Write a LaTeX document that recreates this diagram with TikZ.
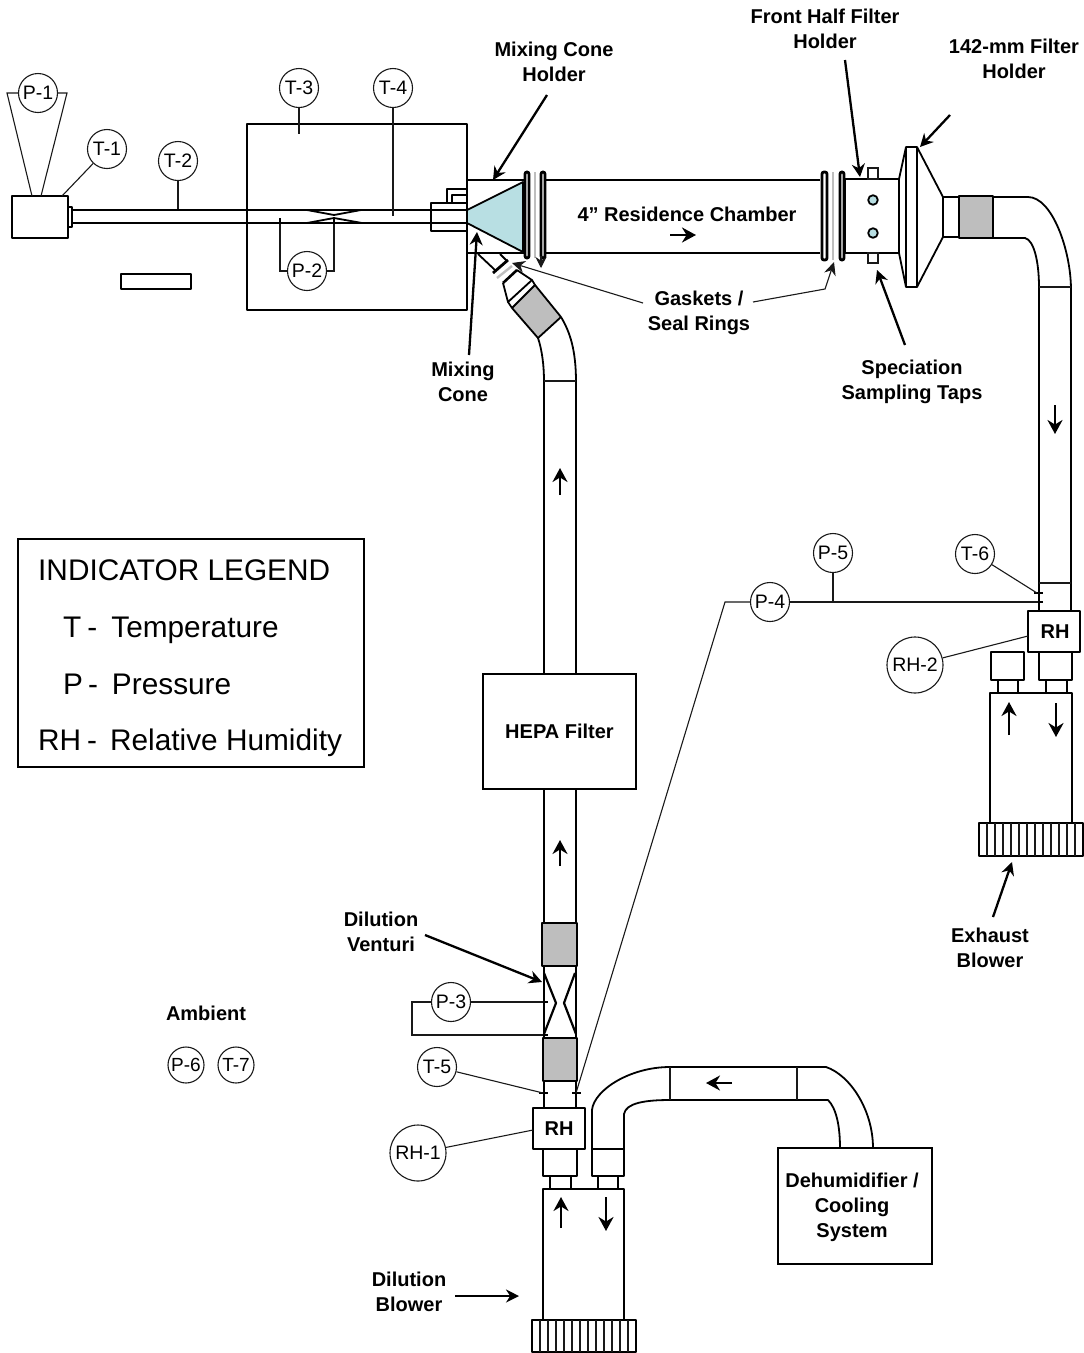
\documentclass[tikz,border=0pt]{standalone}
\usepackage{fontspec}
\setmainfont{Liberation Sans}
\usetikzlibrary{arrows.meta}
\definecolor{teal1}{HTML}{B8DFE3}
\definecolor{gray1}{HTML}{BEBEBE}
\tikzset{
  pipe/.style={line width=1.8pt,draw=black,line join=round},
  thin1/.style={line width=1.1pt,draw=black!90},
  lead/.style={line width=1.1pt,draw=black!90},
  gblock/.style={pipe,fill=gray1},
  flange/.style={line width=2.8pt,draw=black,fill=white,rounded corners=2pt},
  arr/.style={line width=2.3pt,draw=black,-{Stealth[length=13pt,width=13pt]}},
  flow/.style={line width=2.4pt,draw=black,-{Stealth[length=14pt,width=15pt]}},
  ind/.style={circle,draw=black!90,line width=1.1pt,minimum size=39pt,inner sep=0pt,font=\fontsize{19.5}{22}\selectfont,fill=white},
  indb/.style={ind,minimum size=56pt},
  lbl/.style={align=center,font=\fontsize{20}{25}\selectfont\bfseries,inner sep=0pt},
  leg/.style={anchor=base west,font=\fontsize{29.8}{32}\selectfont,inner sep=0pt},
  tick/.style={line width=2.4pt,draw=black},
}
\begin{document}
\begin{tikzpicture}[x=1pt,y=-1pt]
\useasboundingbox (0,0) rectangle (1084,1353);
% ---- named anchor coordinates
\coordinate (p1a) at (7,93);   \coordinate (p1b) at (67,93);
\coordinate (p1c) at (32,196); \coordinate (p1d) at (41,196);
\coordinate (t1e) at (62,196); \coordinate (t2e) at (178,209);
\coordinate (t3e) at (299,134);\coordinate (t4e) at (393,216);
\coordinate (p2l) at (280,221);\coordinate (p2r) at (334,221);
\coordinate (p3a) at (543,1002);\coordinate (p3b) at (543,1035);
\coordinate (t5e) at (543,1093);\coordinate (p4e) at (576,1093);
\coordinate (t6e) at (1037,593);\coordinate (p5e) at (1038,602);
\coordinate (rh1e) at (533,1130);\coordinate (rh2e) at (1028,636);

% ---- small source box and line
\draw[pipe] (12,196) rectangle (68,238);
\draw[pipe] (68,207) rectangle (72,227);
\draw[pipe,line width=1.4pt] (121,274) rectangle (191,289);
\draw[pipe] (72,210) -- (431,210) (72,223) -- (431,223);
\draw[pipe] (247,124) rectangle (467,310);
% inner venturi
\draw[pipe] (307,210) -- (334,215) -- (361,210);
\draw[pipe] (307,223) -- (334,218) -- (362,223);
% fitting
\draw[pipe] (431,203) rectangle (467,231);
\draw[pipe] (431,210) -- (467,210) (431,223) -- (467,223);
\draw[pipe] (447,203) -- (447,189) -- (467,189);
\draw[pipe] (452,203) -- (452,195) -- (467,195);
% mixing cone holder
\draw[pipe] (467,180) -- (524,180) (467,253) -- (524,253);
\draw[pipe,fill=teal1] (467,210) -- (523,182) -- (523,252) -- (467,223) -- cycle;
% gaskets left
\draw[flange] (525,172) rectangle (529,258);
\draw[line width=2.4pt,gray1] (535,172) -- (535,258);
\draw[flange] (541,172) rectangle (545,258);
% residence chamber
\draw[pipe] (546,180) -- (820,180) (546,253) -- (820,253);
% gaskets right
\draw[flange] (822,172) rectangle (827,260);
\draw[line width=2.4pt,gray1] (833,172) -- (833,260);
\draw[flange] (840,172) rectangle (844,260);
% front half holder
\draw[pipe] (845,179) rectangle (899,253);
\draw[thin1,fill=white] (868,168) rectangle (878,179);
\draw[thin1,fill=white] (868,253) rectangle (878,263);
\draw[pipe,fill=teal1] (873,200) circle (4.8pt);
\draw[pipe,fill=teal1] (873,233) circle (4.8pt);
% 142 mm holder
\draw[pipe] (899,179) -- (906,147) -- (917,147) -- (943,197) -- (943,237) -- (917,287) -- (906,287) -- (899,253) -- cycle;
\draw[line width=2.4pt] (906,147) -- (906,287) (917,147) -- (917,287);
\draw[pipe] (943,197) -- (959,197) (943,237) -- (959,237);
\draw[gblock] (959,196) rectangle (993,238);
% exit bend and vertical pipe
\draw[pipe] (993,197) -- (1028,197) .. controls (1052,197) and (1071,250) .. (1071,290) -- (1071,611);
\draw[pipe] (993,238) -- (1025,238) .. controls (1034,240) and (1039,262) .. (1039,287) -- (1039,611);
\draw[thin1] (1039,287) -- (1071,287) (1039,583) -- (1071,583);
% RH-2 and exhaust blower
\draw[pipe] (1028,611) rectangle (1080,652);
\node[lbl] (rh2box) at (1055,632) {RH};
\draw[pipe] (1039,652) rectangle (1072,680);
\draw[pipe] (991,652) rectangle (1024,680);
\draw[pipe] (998,680) rectangle (1018,693);
\draw[pipe] (1046,680) rectangle (1067,693);
\draw[pipe] (990,693) rectangle (1072,823);
\draw[pipe] (979,823) rectangle (1083,856);
\foreach \x in {987,995,...,1079}{\draw[thin1] (\x,823) -- (\x,856);}
\draw[flow] (1009,735) -- (1009,702);
\draw[flow] (1056,703) -- (1056,737);
\draw[tick] (1034,593) -- (1043,593) (1034,602) -- (1043,602);
% return pipe to mixing cone
\draw[pipe] (478,254) -- (495,270) (500,254) -- (507,261);
\draw[line width=2.8pt] (493,273) -- (508,260);
\draw[line width=2.4pt,gray1] (497,278) -- (512,266);
\draw[line width=2.6pt] (503,283) -- (517,270);
\draw[pipe] (503,283) -- (508,302) -- (532,280) -- (517,270);
\draw[pipe] (508,302) -- (512,308) (532,280) -- (535,285);
\draw[gblock] (512,308) -- (535,285) -- (561,317) -- (538,338) -- cycle;
\draw[pipe] (538,338) .. controls (542,350) and (544,365) .. (544,382) -- (544,674);
\draw[pipe] (561,317) .. controls (570,332) and (576,350) .. (576,382) -- (576,674);
\draw[thin1] (544,381) -- (576,381);
% HEPA
\node[draw=black,line width=1.6pt,lbl,minimum width=153pt,minimum height=115pt] (hepa) at (559.5,731.5) {HEPA Filter};
\draw[pipe] (544,789) -- (544,923) (576,789) -- (576,923);
\draw[gblock] (542,923) rectangle (577,966);
\draw[pipe] (544,966) -- (544,1038) (576,966) -- (576,1038);
\draw[pipe,line width=2.2pt] (544,973) -- (556,1003) -- (544,1034);
\draw[pipe,line width=2.2pt] (575,973) -- (564,1003) -- (576,1034);
\draw[gblock] (543,1038) rectangle (577,1081);
\draw[pipe] (544,1081) -- (544,1108) (576,1081) -- (576,1108);
\draw[tick] (539,1002) -- (548,1002) (539,1035) -- (548,1035);
\draw[tick] (539,1093) -- (548,1093) (572,1093) -- (581,1093);
% RH-1 and dilution blower
\draw[pipe] (533,1108) rectangle (585,1149);
\node[lbl] (rh1box) at (559,1129) {RH};
\draw[pipe] (543,1149) rectangle (577,1176);
\draw[pipe] (550,1176) rectangle (571,1189);
\draw[pipe] (592,1149) rectangle (624,1176);
\draw[pipe] (598,1176) rectangle (618,1189);
\draw[pipe] (543,1189) rectangle (624,1320);
\draw[pipe] (532,1320) rectangle (636,1352);
\foreach \x in {540,548,...,632}{\draw[thin1] (\x,1320) -- (\x,1352);}
\draw[flow] (561,1228) -- (561,1197);
\draw[flow] (606,1197) -- (606,1231);
% return duct to dehumidifier
\draw[pipe] (592,1149) -- (592,1110) .. controls (594,1090) and (630,1067) .. (670,1067) -- (797,1067)
   -- (826,1067) .. controls (850,1075) and (873,1110) .. (873,1148);
\draw[pipe] (624,1149) -- (624,1114) .. controls (626,1103) and (645,1100) .. (670,1100) -- (828,1100)
   .. controls (836,1108) and (840,1125) .. (840,1148);
\draw[thin1] (670,1067) -- (670,1100) (797,1067) -- (797,1100);
\draw[flow] (732,1083) -- (706,1083);
\node[draw=black,line width=1.6pt,lbl,minimum width=154pt,minimum height=116pt] (dehum) at (855,1206) {};
\node[lbl] (dehumt) at (852,1207) {Dehumidifier /\\Cooling\\System};
% ---- indicators
\node[ind] (P1) at (38,93) {P-1};
\node[ind] (T1) at (107,149) {T-1};
\node[ind] (T2) at (178,161) {T-2};
\node[ind] (T3) at (299,88) {T-3};
\node[ind] (T4) at (393,88) {T-4};
\node[ind] (P2) at (307,271) {P-2};
\node[ind] (P3) at (451,1002) {P-3};
\node[ind] (P4) at (770,602) {P-4};
\node[ind] (P5) at (833,553) {P-5};
\node[ind] (T5) at (437,1067) {T-5};
\node[ind] (T6) at (975,554) {T-6};
\node[ind,minimum size=36pt,font=\fontsize{19}{22}\selectfont] (P6) at (186,1065) {P-6};
\node[ind,minimum size=36pt,font=\fontsize{19}{22}\selectfont] (T7) at (236,1065) {T-7};
\node[indb] (RH1) at (418,1153) {RH-1};
\node[indb] (RH2) at (915,665) {RH-2};
% ---- leads
\draw[lead] (P1) -- (p1a) -- (p1c);
\draw[lead] (P1) -- (p1b) -- (p1d);
\draw[lead] (T1) -- (t1e);
\draw[lead] (T2) -- (t2e);
\draw[lead] (T3) -- (t3e);
\draw[lead] (T4) -- (t4e);
\draw[lead] (P2) -| (p2l);
\draw[lead] (P2) -| (p2r);
\draw[tick] (280,218) -- (280,224) (334,218) -- (334,224);
\draw[lead] (P3) -- (p3a);
\coordinate (p3c) at (412,1002); \coordinate (p3d) at (412,1035);
\draw[lead] (P3) -- (p3c) -- (p3d) -- (p3b);
\draw[lead] (T5) -- (t5e);
\coordinate (p4c) at (725,602);
\draw[lead] (P4) -- (p4c) -- (p4e);
\draw[lead] (P4) -- (p5e);
\coordinate (p5d) at (833,602);
\draw[lead] (P5) -- (p5d);
\draw[lead] (T6) -- (t6e);
\draw[lead] (RH1) -- (rh1e);
\draw[lead] (RH2) -- (rh2e);
% ---- labels
\node[lbl] (lMCH) at (554,62) {Mixing Cone\\Holder};
\node[lbl] (lFH) at (825,29) {Front Half Filter\\Holder};
\node[lbl] (l142) at (1014,59) {142-mm Filter\\Holder};
\node[lbl] (lRC) at (687,214) {4” Residence Chamber};
\node[lbl] (lGS) at (699,313) {Gaskets /\\Seal Rings};
\node[lbl] (lMC) at (463,382) {Mixing\\Cone};
\node[lbl] (lSS) at (912,382) {Speciation\\Sampling Taps};
\node[lbl] (lDV) at (381,932) {Dilution\\Venturi};
\node[lbl] (lAm) at (206,1013) {Ambient};
\node[lbl] (lEB) at (990,948) {Exhaust\\Blower};
\node[lbl] (lDB) at (409,1292) {Dilution\\Blower};
% ---- callout arrows
\coordinate (aMCH) at (493,180); \coordinate (aFH) at (860,177);
\coordinate (a142) at (920,147); \coordinate (aMC) at (477,232);
\coordinate (aG1) at (512,263); \coordinate (aG2) at (541,268);
\coordinate (aG2s) at (541,256); \coordinate (aG3b) at (825,289); \coordinate (aG3) at (834,262);
\coordinate (aSS) at (877,270); \coordinate (aEB) at (1012,862);
\coordinate (aDV) at (542,982); \coordinate (aDB) at (519,1296);
\draw[arr] (lMCH) ++(-7,33) -- (aMCH);
\draw[arr] (lFH) ++(20,31) -- (aFH);
\draw[arr] (l142) ++(-64,56) -- (a142);
\draw[arr] (lMC) ++(6,-27) -- (aMC);
\draw[lead,-{Stealth[length=13pt,width=12pt]}] (lGS) ++(-56,-10) -- (aG1);
\draw[lead,-{Stealth[length=11pt,width=11pt]}] (aG2s) -- (aG2);
\draw[lead,-{Stealth[length=13pt,width=12pt]}] (lGS) ++(54,-11) -- (aG3b) -- (aG3);
\draw[arr] (lSS) ++(-7,-37) -- (aSS);
\draw[arr] (lEB) ++(3,-31) -- (aEB);
\draw[arr] (lDV) ++(44,3) -- (aDV);
\draw[arr] (lDB) ++(46,4) -- (aDB);
% flow arrows
\draw[flow] (670,235) -- (696,235);
\draw[flow] (1055,405) -- (1055,434);
\draw[flow] (560,495) -- (560,468);
\draw[flow] (560,866) -- (560,840);
% ---- legend
\node[draw=black,line width=1.2pt,minimum width=346pt,minimum height=228pt,inner sep=0pt] (legend) at (191,653) {};
\node[leg] (L1) at (38,580) {INDICATOR LEGEND};
\node[leg] (L2) at (63,637) {T\hspace{6pt}-\hspace{14pt}Temperature};
\node[leg] (L3) at (63,694) {P\hspace{5pt}-\hspace{14pt}Pressure};
\node[leg] (L4) at (38,750) {RH\hspace{6pt}-\hspace{13pt}Relative Humidity};
\end{tikzpicture}
\end{document}
